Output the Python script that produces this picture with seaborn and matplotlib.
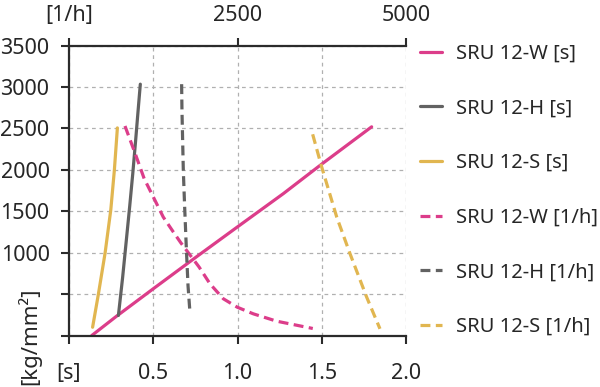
import pandas as pd
import matplotlib
matplotlib.use("Agg")
import matplotlib.pyplot as plt
import seaborn as sns

# --- data ---
# [s] series (bottom axis, seconds)
w_s_x = [0.135, 0.283, 0.5, 0.767, 0.998, 1.271, 1.499, 1.795]
w_s_y = [0, 235, 565, 967, 1310, 1713, 2070, 2520]
h_s_x = [0.293, 0.318, 0.340, 0.360, 0.378, 0.395, 0.410, 0.423]
h_s_y = [242, 700, 1150, 1560, 1950, 2350, 2720, 3035]
s_s_x = [0.140, 0.174, 0.214, 0.248, 0.269, 0.287]
s_s_y = [100, 496, 995, 1520, 1995, 2507]

# [1/h] series (top axis)
w_h_x = [830, 978, 1115, 1275, 1398, 1548, 1658, 1930, 2090, 2288, 2495,
         2733, 3080, 3615]
w_h_y = [2530, 2205, 1894, 1632, 1430, 1249, 1120, 826, 625, 444, 342,
         262, 173, 85]
h_h_x = [1670, 1675, 1695, 1715, 1740, 1765, 1795]
h_h_y = [3035, 2720, 1995, 1550, 1050, 600, 262]
s_h_x = [3613, 3747, 3970, 4167, 4414, 4611]
s_h_y = [2430, 2035, 1430, 988, 463, 81]

pink = "#dc3d8a"
grey = "#626262"
yellow = "#e1b650"

sns.set_style("white")
plt.rcParams["font.family"] = ["Noto Sans", "DejaVu Sans"]
plt.rcParams["font.size"] = 15.5

fig = plt.figure(figsize=(6, 3.87), dpi=100)
ax = fig.add_axes([0.115, 0.133, 0.562, 0.749])
ax2 = ax.twiny()

lw = 2.3
dash = (3.1, 1.7)

def draw(a, x, y, color, label, dashed):
    df = pd.DataFrame({"x": x, "y": y})
    sns.lineplot(data=df, x="x", y="y", ax=a, sort=False, color=color,
                 lw=lw, legend=False)
    line = a.lines[-1]
    if dashed:
        line.set_dashes(dash)
    else:
        line.set_solid_capstyle("round")
    line.set_label(label)
    return line

handles = []
handles.append(draw(ax, w_s_x, w_s_y, pink, "SRU 12-W [s]", False))
handles.append(draw(ax, h_s_x, h_s_y, grey, "SRU 12-H [s]", False))
handles.append(draw(ax, s_s_x, s_s_y, yellow, "SRU 12-S [s]", False))
handles.append(draw(ax2, w_h_x, w_h_y, pink, "SRU 12-W [1/h]", True))
handles.append(draw(ax2, h_h_x, h_h_y, grey, "SRU 12-H [1/h]", True))
handles.append(draw(ax2, s_h_x, s_h_y, yellow, "SRU 12-S [1/h]", True))

ax.set_xlim(0, 2.0)
ax.set_ylim(0, 3500)
ax2.set_xlim(0, 5000)
ax2.set_ylim(0, 3500)

ax.set_xticks([0, 0.5, 1.0, 1.5, 2.0])
ax.set_xticklabels(["[s]", "0.5", "1.0", "1.5", "2.0"])
ax.set_yticks(range(0, 3501, 500))
ax.set_yticklabels(["", "", "1000", "1500", "2000", "2500", "3000", "3500"])
ax2.set_xticks([0, 2500, 5000])
ax2.set_xticklabels(["[1/h]", "2500", "5000"])
ax.set_xlabel("")
ax.set_ylabel("")
ax2.set_xlabel("")
ax2.set_ylabel("")

ax.grid(True, color="#b0b0b0", linestyle=(0, (3, 3)), lw=0.9)
ax2.grid(False)

spine_c = "#2b2b2b"
for a in (ax, ax2):
    for s in a.spines.values():
        s.set_visible(False)
ax.spines["left"].set_visible(True)
ax.spines["bottom"].set_visible(True)
ax2.spines["top"].set_visible(True)
for s in (ax.spines["left"], ax.spines["bottom"], ax2.spines["top"]):
    s.set_color(spine_c)
    s.set_linewidth(1.6)

ax.tick_params(axis="x", direction="out", length=6, width=1.5, color=spine_c,
               pad=14, labelsize=15.5, bottom=True)
ax.tick_params(axis="y", direction="out", length=6, width=1.5, color=spine_c,
               pad=8, labelsize=15.5, left=True)
ax2.tick_params(axis="x", direction="out", length=6, width=1.5, color=spine_c,
                pad=8, labelsize=15.5, top=True)

fig.text(0.048, 0.004, "[kg/mm²]", rotation=90, ha="center", va="bottom",
         fontsize=16)

fig.legend(handles=handles, loc="center left",
           bbox_to_anchor=(0.70, 0.508), frameon=False,
           fontsize=14.5, handlelength=1.1, handletextpad=0.7,
           labelspacing=1.72, borderpad=0, borderaxespad=0)

fig.savefig("out.png", dpi=100)
